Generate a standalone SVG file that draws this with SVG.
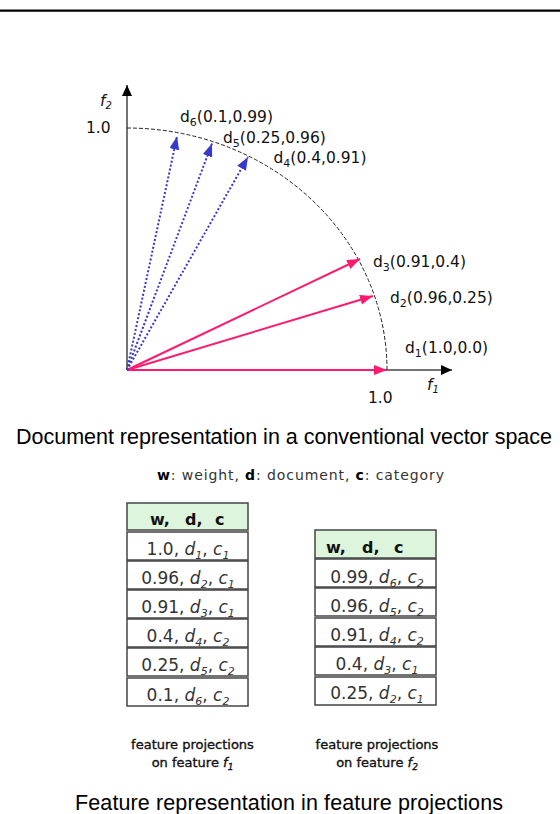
<svg xmlns="http://www.w3.org/2000/svg" width="560" height="814" viewBox="0 0 560 814">
<style>
.lbl{font-family:"DejaVu Sans","Liberation Sans",sans-serif;font-size:15.5px;fill:#111}
.ttl{font-family:"Liberation Sans",Arial,sans-serif;font-size:21.5px;fill:#000}
.cell{font-family:"DejaVu Sans","Liberation Sans",sans-serif;font-size:17px;fill:#333}
.hdr{font-family:"DejaVu Sans","Liberation Sans",sans-serif;font-size:16px;font-weight:bold;fill:#111}
.note{font-family:"DejaVu Sans","Liberation Sans",sans-serif;font-size:13px;fill:#111;stroke:#111;stroke-width:0.35}
.box{fill:#fff;stroke:#444;stroke-width:1.5}
.hbox{fill:#dcf5dc;stroke:#444;stroke-width:1.5}
.pink{stroke:#ff1a6e;stroke-width:2;fill:none}
.blue{stroke:#3838cc;stroke-width:2;fill:none;stroke-dasharray:2 2}
.axis{stroke:#444;stroke-width:1.5;fill:none}
</style>
<defs>
<marker id="mp" markerWidth="14" markerHeight="12" refX="13" refY="5" orient="auto" markerUnits="userSpaceOnUse"><path d="M0,0 L13,5 L0,10 z" fill="#ff1a6e"/></marker>
<marker id="mb" markerWidth="14" markerHeight="12" refX="13" refY="5" orient="auto" markerUnits="userSpaceOnUse"><path d="M0,0 L13,5 L0,10 z" fill="#3838cc"/></marker>
<marker id="mk" markerWidth="14" markerHeight="12" refX="11" refY="5" orient="auto" markerUnits="userSpaceOnUse"><path d="M0,0 L11,5 L0,10 z" fill="#000"/></marker>
</defs>
<line x1="0" y1="10.7" x2="560" y2="10.7" stroke="#000" stroke-width="2.3"/>

<g id="axes">
<line class="axis" x1="127" y1="370" x2="127" y2="85" marker-end="url(#mk)"/>
<line class="axis" x1="127" y1="370" x2="452" y2="370" marker-end="url(#mk)"/>
<path d="M127,128 A260,242 0 0 1 387,370" fill="none" stroke="#222" stroke-width="1" stroke-dasharray="4 2"/>
<text class="lbl" x="86" y="133">1.0</text>
<text class="lbl" x="368" y="403">1.0</text>
<text class="lbl" x="100" y="106" font-style="italic">f<tspan dy="3" font-size="10">2</tspan></text>
<text class="lbl" x="427" y="390" font-style="italic">f<tspan dy="3" font-size="10">1</tspan></text>
</g>

<g id="connectors">
<line class="pink" x1="127" y1="370" x2="387" y2="370" marker-end="url(#mp)"/>
<line class="pink" x1="127" y1="370" x2="373" y2="296" marker-end="url(#mp)"/>
<line class="pink" x1="127" y1="370" x2="360" y2="259" marker-end="url(#mp)"/>
<line class="blue" x1="127" y1="370" x2="248" y2="157" marker-end="url(#mb)"/>
<line class="blue" x1="127" y1="370" x2="212" y2="143.5" marker-end="url(#mb)"/>
<line class="blue" x1="127" y1="370" x2="177" y2="136.5" marker-end="url(#mb)"/>
</g>

<g id="d6"><text class="lbl" x="180" y="122">d<tspan dy="4" font-size="11">6</tspan><tspan dy="-4">(0.1,0.99)</tspan></text></g>
<g id="d5"><text class="lbl" x="223" y="143">d<tspan dy="4" font-size="11">5</tspan><tspan dy="-4">(0.25,0.96)</tspan></text></g>
<g id="d4"><text class="lbl" x="273.5" y="163">d<tspan dy="4" font-size="11">4</tspan><tspan dy="-4">(0.4,0.91)</tspan></text></g>
<g id="d3"><text class="lbl" x="373" y="266.5">d<tspan dy="4" font-size="11">3</tspan><tspan dy="-4">(0.91,0.4)</tspan></text></g>
<g id="d2"><text class="lbl" x="390" y="302.5">d<tspan dy="4" font-size="11">2</tspan><tspan dy="-4">(0.96,0.25)</tspan></text></g>
<g id="d1"><text class="lbl" x="405" y="353">d<tspan dy="4" font-size="11">1</tspan><tspan dy="-4">(1.0,0.0)</tspan></text></g>

<text class="ttl" x="16" y="444" textLength="536">Document representation in a conventional vector space</text>
<text x="157" y="480" textLength="287" font-family="DejaVu Sans, Liberation Sans, sans-serif" font-size="14" fill="#333"><tspan font-weight="bold" fill="#000">w</tspan>: weight, <tspan font-weight="bold" fill="#000">d</tspan>: document, <tspan font-weight="bold" fill="#000">c</tspan>: category</text>

<g id="table1">
<rect class="hbox" x="127" y="503" width="121" height="27"/>
<text class="hdr" y="525"><tspan x="150">w,</tspan><tspan x="185">d,</tspan><tspan x="215">c</tspan></text>
<rect class="box" x="127" y="532" width="121" height="28"/>
<rect class="box" x="127" y="561" width="121" height="28"/>
<rect class="box" x="127" y="590" width="121" height="28"/>
<rect class="box" x="127" y="619" width="121" height="28"/>
<rect class="box" x="127" y="648" width="121" height="28"/>
<rect class="box" x="127" y="678" width="121" height="28"/>
<text class="cell" x="188" y="555" text-anchor="middle">1.0, <tspan font-style="italic">d</tspan><tspan dy="4" font-size="11" font-style="italic">1</tspan><tspan dy="-4">, </tspan><tspan font-style="italic">c</tspan><tspan dy="4" font-size="11" font-style="italic">1</tspan></text>
<text class="cell" x="188" y="584" text-anchor="middle">0.96, <tspan font-style="italic">d</tspan><tspan dy="4" font-size="11" font-style="italic">2</tspan><tspan dy="-4">, </tspan><tspan font-style="italic">c</tspan><tspan dy="4" font-size="11" font-style="italic">1</tspan></text>
<text class="cell" x="188" y="613" text-anchor="middle">0.91, <tspan font-style="italic">d</tspan><tspan dy="4" font-size="11" font-style="italic">3</tspan><tspan dy="-4">, </tspan><tspan font-style="italic">c</tspan><tspan dy="4" font-size="11" font-style="italic">1</tspan></text>
<text class="cell" x="188" y="642" text-anchor="middle">0.4, <tspan font-style="italic">d</tspan><tspan dy="4" font-size="11" font-style="italic">4</tspan><tspan dy="-4">, </tspan><tspan font-style="italic">c</tspan><tspan dy="4" font-size="11" font-style="italic">2</tspan></text>
<text class="cell" x="188" y="671" text-anchor="middle">0.25, <tspan font-style="italic">d</tspan><tspan dy="4" font-size="11" font-style="italic">5</tspan><tspan dy="-4">, </tspan><tspan font-style="italic">c</tspan><tspan dy="4" font-size="11" font-style="italic">2</tspan></text>
<text class="cell" x="188" y="701" text-anchor="middle">0.1, <tspan font-style="italic">d</tspan><tspan dy="4" font-size="11" font-style="italic">6</tspan><tspan dy="-4">, </tspan><tspan font-style="italic">c</tspan><tspan dy="4" font-size="11" font-style="italic">2</tspan></text>
</g>

<g id="table2">
<rect class="hbox" x="315" y="530" width="121" height="28"/>
<text class="hdr" y="553"><tspan x="326">w,</tspan><tspan x="362">d,</tspan><tspan x="394">c</tspan></text>
<rect class="box" x="315" y="559" width="121" height="28"/>
<rect class="box" x="315" y="588" width="121" height="28"/>
<rect class="box" x="315" y="618" width="121" height="28"/>
<rect class="box" x="315" y="647" width="121" height="28"/>
<rect class="box" x="315" y="677" width="121" height="28"/>
<text class="cell" x="377" y="583" text-anchor="middle">0.99, <tspan font-style="italic">d</tspan><tspan dy="4" font-size="11" font-style="italic">6</tspan><tspan dy="-4">, </tspan><tspan font-style="italic">c</tspan><tspan dy="4" font-size="11" font-style="italic">2</tspan></text>
<text class="cell" x="377" y="612" text-anchor="middle">0.96, <tspan font-style="italic">d</tspan><tspan dy="4" font-size="11" font-style="italic">5</tspan><tspan dy="-4">, </tspan><tspan font-style="italic">c</tspan><tspan dy="4" font-size="11" font-style="italic">2</tspan></text>
<text class="cell" x="377" y="641" text-anchor="middle">0.91, <tspan font-style="italic">d</tspan><tspan dy="4" font-size="11" font-style="italic">4</tspan><tspan dy="-4">, </tspan><tspan font-style="italic">c</tspan><tspan dy="4" font-size="11" font-style="italic">2</tspan></text>
<text class="cell" x="377" y="670" text-anchor="middle">0.4, <tspan font-style="italic">d</tspan><tspan dy="4" font-size="11" font-style="italic">3</tspan><tspan dy="-4">, </tspan><tspan font-style="italic">c</tspan><tspan dy="4" font-size="11" font-style="italic">1</tspan></text>
<text class="cell" x="377" y="699" text-anchor="middle">0.25, <tspan font-style="italic">d</tspan><tspan dy="4" font-size="11" font-style="italic">2</tspan><tspan dy="-4">, </tspan><tspan font-style="italic">c</tspan><tspan dy="4" font-size="11" font-style="italic">1</tspan></text>
</g>

<text class="note" x="192.5" y="749" text-anchor="middle">feature projections</text>
<text class="note" x="192.5" y="767" text-anchor="middle">on feature <tspan font-style="italic">f</tspan><tspan dy="3" font-size="9" font-style="italic">1</tspan></text>
<text class="note" x="377" y="749" text-anchor="middle">feature projections</text>
<text class="note" x="377" y="767" text-anchor="middle">on feature <tspan font-style="italic">f</tspan><tspan dy="3" font-size="9" font-style="italic">2</tspan></text>

<text class="ttl" x="289" y="810" text-anchor="middle" textLength="428">Feature representation in feature projections</text>
</svg>
